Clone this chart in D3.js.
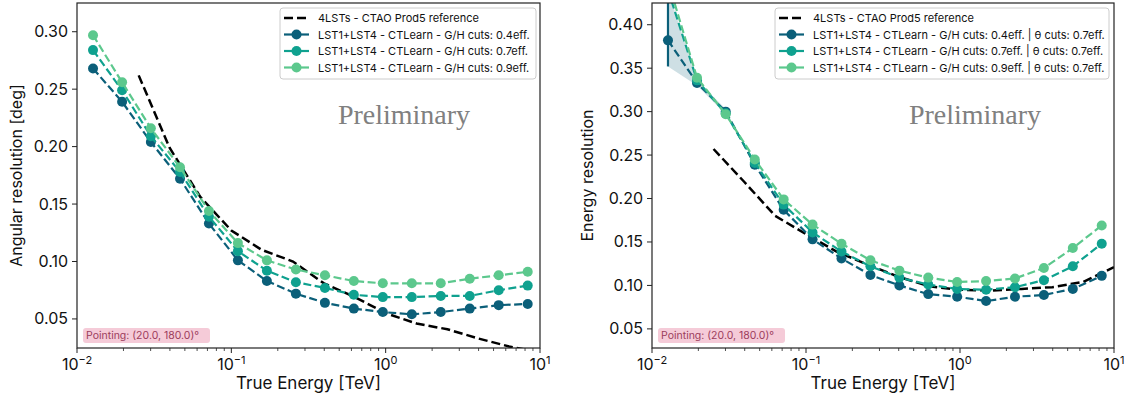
<!DOCTYPE html>
<html>
<head>
<meta charset="utf-8">
<script src="https://cdn.jsdelivr.net/npm/d3@7"></script>
<style>
  body { margin: 0; background: #fff; }
  svg { font-family: Inter, "DejaVu Sans", sans-serif; }
</style>
</head>
<body>
<div class="chart"></div>
<script>
// energy bin centres [TeV] used by the CTLearn points
const energies = [0.0127, 0.0196, 0.0301, 0.0465, 0.0716, 0.1103, 0.170, 0.262, 0.404, 0.622, 0.958, 1.477, 2.275, 3.506, 5.402, 8.325];
// energies of the Prod5 reference curve
const refEnergies = [0.0251, 0.0398, 0.0631, 0.1, 0.158, 0.251, 0.398, 0.631, 1.0, 1.585, 2.512, 3.981, 6.31, 10.0];

// angular resolution [deg]
const angRef = [0.262, 0.199, 0.156, 0.127, 0.110, 0.100, 0.081, 0.069, 0.055, 0.046, 0.041, 0.033, 0.026, 0.021];
const ang04 = [0.268, 0.239, 0.204, 0.172, 0.133, 0.101, 0.083, 0.072, 0.064, 0.059, 0.056, 0.054, 0.056, 0.059, 0.062, 0.063];
const ang07 = [0.284, 0.249, 0.209, 0.178, 0.139, 0.109, 0.092, 0.082, 0.077, 0.071, 0.069, 0.069, 0.070, 0.070, 0.075, 0.079];
const ang09 = [0.297, 0.256, 0.216, 0.182, 0.144, 0.116, 0.101, 0.093, 0.088, 0.083, 0.081, 0.081, 0.081, 0.085, 0.088, 0.091];

// energy resolution
const eresRef = [0.257, 0.219, 0.180, 0.159, 0.139, 0.124, 0.110, 0.099, 0.095, 0.094, 0.096, 0.098, 0.104, 0.121];
const eres04 = [0.382, 0.333, 0.300, 0.239, 0.187, 0.153, 0.131, 0.112, 0.100, 0.090, 0.087, 0.082, 0.087, 0.089, 0.096, 0.111];
const eres07 = [0.440, 0.336, 0.298, 0.241, 0.193, 0.161, 0.139, 0.122, 0.109, 0.101, 0.096, 0.095, 0.098, 0.106, 0.122, 0.148];
const eres09 = [0.450, 0.339, 0.297, 0.245, 0.199, 0.170, 0.148, 0.129, 0.117, 0.109, 0.104, 0.105, 0.108, 0.120, 0.143, 0.169];
// uncertainty band on the lowest bins (0.4eff)
const eres04Lo = [0.352, 0.330, 0.297];
const eres04Hi = [0.440, 0.336, 0.303];

const xTicks = [0.01, 0.1, 1, 10];
const xTickExp = ["\u22122", "\u22121", "0", "1"];
const angTicks = [0.05, 0.10, 0.15, 0.20, 0.25, 0.30];
const eresTicks = [0.05, 0.10, 0.15, 0.20, 0.25, 0.30, 0.35, 0.40];

const colors = ['#0b5f79', '#0fa18f', '#5cc88d'];

const width = 1133, height = 401;
const svg = d3.select('.chart').append('svg')
    .attr('width', width)
    .attr('height', height);

function drawPanel(opt) {
    const x = d3.scaleLog().domain([0.01, 10]).range([opt.left, opt.right]);
    const y = d3.scaleLinear().domain(opt.yDomain).range([opt.bottom, opt.top]);
    const g = svg.append('g');

    g.append('clipPath').attr('id', opt.id)
        .append('rect')
        .attr('x', opt.left).attr('y', opt.top)
        .attr('width', opt.right - opt.left).attr('height', opt.bottom - opt.top);

    const plot = g.append('g').attr('clip-path', `url(#${opt.id})`);

    // uncertainty band
    if (opt.band) {
        const area = d3.area()
            .x((d, i) => x(energies[i]))
            .y0(d => y(d[0]))
            .y1(d => y(d[1]));
        const bandData = opt.band.lo.map((d, i) => [d, opt.band.hi[i]]);
        plot.append('path')
            .attr('d', area(bandData))
            .attr('fill', colors[0])
            .attr('opacity', 0.2);
        plot.append('line')
            .attr('x1', x(energies[0])).attr('x2', x(energies[0]))
            .attr('y1', y(opt.band.lo[0])).attr('y2', y(opt.band.hi[0]))
            .attr('stroke', colors[0]).attr('stroke-width', 2.2);
    }

    // reference curve
    const line = d3.line().x(d => x(d[0])).y(d => y(d[1]));
    plot.append('path')
        .attr('d', line(refEnergies.map((e, i) => [e, opt.ref[i]])))
        .attr('fill', 'none')
        .attr('stroke', '#000')
        .attr('stroke-width', 2.5)
        .attr('stroke-dasharray', '9,4');

    // CTLearn series
    opt.series.forEach((s, k) => {
        const pts = energies.map((e, i) => [e, s[i]]);
        plot.append('path')
            .attr('d', line(pts))
            .attr('fill', 'none')
            .attr('stroke', colors[k])
            .attr('stroke-width', 2.2)
            .attr('stroke-dasharray', '8,3.5');
        plot.selectAll(null)
            .data(pts)
            .enter()
            .append('circle')
            .attr('cx', d => x(d[0]))
            .attr('cy', d => y(d[1]))
            .attr('r', 5)
            .attr('fill', colors[k]);
    });

    // frame
    g.append('rect')
        .attr('x', opt.left).attr('y', opt.top)
        .attr('width', opt.right - opt.left).attr('height', opt.bottom - opt.top)
        .attr('fill', 'none').attr('stroke', '#222').attr('stroke-width', 1.2);

    // x axis: major + minor log ticks
    const minor = [];
    for (let p = -2; p < 1; p++) {
        for (let m = 2; m <= 9; m++) minor.push(m * Math.pow(10, p));
    }
    g.selectAll(null).data(minor).enter().append('line')
        .attr('x1', d => x(d)).attr('x2', d => x(d))
        .attr('y1', opt.bottom).attr('y2', opt.bottom + 3)
        .attr('stroke', '#222').attr('stroke-width', 0.8);
    g.selectAll(null).data(xTicks).enter().append('line')
        .attr('x1', d => x(d)).attr('x2', d => x(d))
        .attr('y1', opt.bottom).attr('y2', opt.bottom + 5)
        .attr('stroke', '#222').attr('stroke-width', 1);
    const xl = g.selectAll(null).data(xTicks).enter().append('text')
        .attr('x', d => x(d))
        .attr('y', opt.bottom + 22)
        .attr('text-anchor', 'middle')
        .attr('font-size', 16)
        .attr('fill', '#111');
    xl.append('tspan').text('10');
    xl.append('tspan').attr('dy', -6).attr('font-size', 11).text((d, i) => xTickExp[i]);

    // y axis
    g.selectAll(null).data(opt.yTicks).enter().append('line')
        .attr('x1', opt.left - 5).attr('x2', opt.left)
        .attr('y1', d => y(d)).attr('y2', d => y(d))
        .attr('stroke', '#222').attr('stroke-width', 1);
    g.selectAll(null).data(opt.yTicks).enter().append('text')
        .attr('x', opt.left - 9)
        .attr('y', d => y(d) + 5.5)
        .attr('text-anchor', 'end')
        .attr('font-size', 16)
        .attr('fill', '#111')
        .text(d => d3.format('.2f')(d));

    // axis titles
    g.append('text')
        .attr('x', (opt.left + opt.right) / 2)
        .attr('y', 389)
        .attr('text-anchor', 'middle')
        .attr('font-size', 17)
        .attr('fill', '#111')
        .text('True Energy [TeV]');
    g.append('text')
        .attr('transform', `translate(${opt.yLabelX},${(opt.top + opt.bottom) / 2}) rotate(-90)`)
        .attr('text-anchor', 'middle')
        .attr('font-size', 16)
        .attr('fill', '#111')
        .text(opt.yLabel);

    // watermark
    g.append('text')
        .attr('x', opt.prelimX)
        .attr('y', 124)
        .attr('text-anchor', 'middle')
        .attr('font-family', '"Liberation Serif", "DejaVu Serif", serif')
        .attr('font-size', 28)
        .attr('fill', '#808080')
        .text('Preliminary');

    // pointing box
    g.append('rect')
        .attr('x', opt.left + 6).attr('y', opt.bottom - 20)
        .attr('width', 127).attr('height', 15).attr('rx', 3)
        .attr('fill', '#f5cbd8');
    g.append('text')
        .attr('x', opt.left + 9).attr('y', opt.bottom - 9)
        .attr('font-size', 10.5)
        .attr('fill', '#9c3d5c')
        .text('Pointing: (20.0, 180.0)\u00b0');

    // legend
    const lg = g.append('g').attr('transform', `translate(${opt.legX},${opt.top + 5})`);
    lg.append('rect')
        .attr('width', opt.legW).attr('height', 71).attr('rx', 3)
        .attr('fill', '#fff').attr('fill-opacity', 0.85)
        .attr('stroke', '#ccc');
    const rows = [{ label: opt.legLabels[0], color: '#000', ref: true }]
        .concat(colors.map((c, k) => ({ label: opt.legLabels[k + 1], color: c, ref: false })));
    rows.forEach((r, i) => {
        const yy = 10 + i * 16.5;
        lg.append('line')
            .attr('x1', 4).attr('x2', 29)
            .attr('y1', yy).attr('y2', yy)
            .attr('stroke', r.color)
            .attr('stroke-width', r.ref ? 2.5 : 2.2)
            .attr('stroke-dasharray', r.ref ? '9,4' : null);
        if (!r.ref) {
            lg.append('circle').attr('cx', 16.5).attr('cy', yy).attr('r', 5).attr('fill', r.color);
        }
        lg.append('text')
            .attr('x', 38).attr('y', yy + 4)
            .attr('font-size', 11)
            .attr('fill', '#111')
            .text(r.label);
    });
}

drawPanel({
    id: 'clipA', left: 77, right: 540, top: 3, bottom: 348,
    yDomain: [0.0247, 0.325], yTicks: angTicks,
    ref: angRef, series: [ang04, ang07, ang09],
    yLabel: 'Angular resolution [deg]', yLabelX: 22, prelimX: 404,
    legX: 280, legW: 256,
    legLabels: ['4LSTs - CTAO Prod5 reference',
        'LST1+LST4 - CTLearn - G/H cuts: 0.4eff.',
        'LST1+LST4 - CTLearn - G/H cuts: 0.7eff.',
        'LST1+LST4 - CTLearn - G/H cuts: 0.9eff.']
});

drawPanel({
    id: 'clipB', left: 652, right: 1114, top: 3, bottom: 348,
    yDomain: [0.028, 0.425], yTicks: eresTicks,
    ref: eresRef, series: [eres04, eres07, eres09],
    band: { lo: eres04Lo, hi: eres04Hi },
    yLabel: 'Energy resolution', yLabelX: 593, prelimX: 975,
    legX: 775, legW: 334,
    legLabels: ['4LSTs - CTAO Prod5 reference',
        'LST1+LST4 - CTLearn - G/H cuts: 0.4eff. | \u03b8 cuts: 0.7eff.',
        'LST1+LST4 - CTLearn - G/H cuts: 0.7eff. | \u03b8 cuts: 0.7eff.',
        'LST1+LST4 - CTLearn - G/H cuts: 0.9eff. | \u03b8 cuts: 0.7eff.']
});
</script>
</body>
</html>
